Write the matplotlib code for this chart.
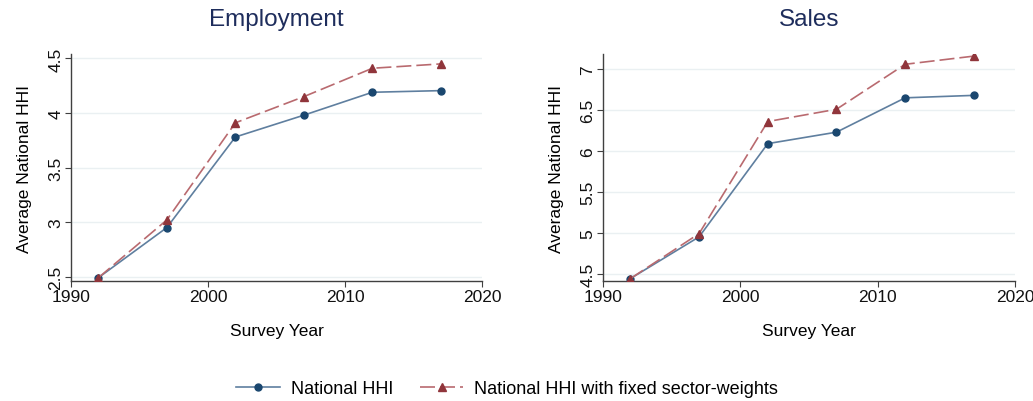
import matplotlib.pyplot as plt
from matplotlib.lines import Line2D

years = [1992, 1997, 2002, 2007, 2012, 2017]

emp_national = [2.49, 2.95, 3.78, 3.98, 4.19, 4.205]
emp_fixed = [2.49, 3.02, 3.91, 4.15, 4.41, 4.45]

sales_national = [4.44, 4.95, 6.09, 6.23, 6.65, 6.68]
sales_fixed = [4.44, 4.99, 6.36, 6.51, 7.06, 7.16]

emp_yticks = [2.5, 3, 3.5, 4, 4.5]
emp_yticklabels = ['2.5', '3', '3.5', '4', '4.5']
sales_yticks = [4.5, 5, 5.5, 6, 6.5, 7]
sales_yticklabels = ['4.5', '5', '5.5', '6', '6.5', '7']
xticks = [1990, 2000, 2010, 2020]

BLUE = '#1a476f'
BLUE_LINE = '#5f7f9f'
RED = '#90353b'
RED_LINE = '#b96a6f'
TITLE_COLOR = '#1e2d5c'

plt.rcParams['font.family'] = ['Liberation Sans', 'DejaVu Sans']

fig = plt.figure(figsize=(10.33, 4.02), dpi=100)
ax1 = fig.add_axes([0.0687, 0.2985, 0.3979, 0.5645])
ax2 = fig.add_axes([0.5837, 0.2985, 0.3989, 0.5645])


def draw_panel(ax, nat, fixed, yticks, yticklabels, ylim, title):
    ax.plot(years, nat, color=BLUE_LINE, lw=1.2, marker='o', ms=5,
            mfc=BLUE, mec=BLUE, zorder=3)
    ax.plot(years, fixed, color=RED_LINE, lw=1.2, ls=(0, (9, 3)),
            marker='^', ms=6, mfc=RED, mec=RED, zorder=3)
    ax.set_xlim(1990, 2020)
    ax.set_ylim(*ylim)
    ax.set_xticks(xticks)
    ax.set_yticks(yticks)
    ax.set_yticklabels(yticklabels, rotation=90, va='center')
    ax.grid(axis='y', color='#eaf0f2', lw=1.0)
    ax.set_axisbelow(True)
    for s in ['top', 'right']:
        ax.spines[s].set_visible(False)
    for s in ['left', 'bottom']:
        ax.spines[s].set_color('#404040')
        ax.spines[s].set_linewidth(1.0)
    ax.tick_params(axis='both', labelsize=12.5, color='#404040', length=4,
                   labelcolor='#111111', pad=1.5)
    ax.set_xlabel('Survey Year', fontsize=12.5, labelpad=14)
    ax.set_ylabel('Average National HHI', fontsize=12.5, labelpad=12)
    ax.set_title(title, fontsize=17.5, color=TITLE_COLOR, pad=21)


draw_panel(ax1, emp_national, emp_fixed, emp_yticks, emp_yticklabels,
           (2.46, 4.54), 'Employment')
draw_panel(ax2, sales_national, sales_fixed, sales_yticks, sales_yticklabels,
           (4.41, 7.185), 'Sales')

handles = [
    Line2D([], [], color=BLUE_LINE, lw=1.2, marker='o', ms=5, mfc=BLUE, mec=BLUE),
    Line2D([], [], color=RED_LINE, lw=1.2, ls=(0, (9, 3)), marker='^', ms=6,
           mfc=RED, mec=RED),
]
fig.legend(handles, ['National HHI', 'National HHI with fixed sector-weights'],
           loc='center', bbox_to_anchor=(0.491, 0.03), ncol=2, frameon=False,
           fontsize=13, handlelength=2.4, handletextpad=0.6, columnspacing=1.5)

plt.savefig('out.png', dpi=100)
